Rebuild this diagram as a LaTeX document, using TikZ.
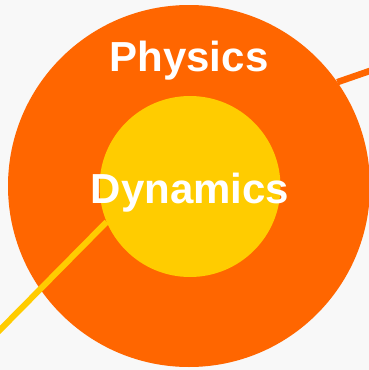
\documentclass[tikz,border=0pt]{standalone}
\usepackage{fontspec}
\setmainfont{Liberation Sans}
\usepackage{tikz}
\usetikzlibrary{positioning}
\definecolor{physorange}{HTML}{FF6600}
\definecolor{dynyellow}{HTML}{FFCC00}
\definecolor{bggray}{HTML}{F8F8F8}

\begin{document}
\begin{tikzpicture}[x=1pt, y=-1pt,
		disc/.style={circle, inner sep=0pt, outer sep=0pt},
		title/.style={text=white, font=\fontsize{42}{42}\selectfont\bfseries, anchor=base, inner sep=0pt}]
		
		% Frame
		\clip (0,0) rectangle (369,370);
		\fill[bggray] (0,0) rectangle (369,370);
		
		% Outer circle
		\node[disc, fill=physorange, minimum size=362pt] (physics) at (189,186) {};
		
		% Inner circle
		\node[disc, fill=dynyellow, minimum size=181pt] (dynamics) at (190,186.5) {};
		
		% Links leaving the circles
		\coordinate (physout) at (380,67.4);
		\coordinate (dynout) at (-10,340);
		\draw[physorange, line width=6.5pt] (physics.35.5) -- (physout);
		\draw[dynyellow, line width=6pt] (dynamics.203) -- (dynout);
		
		% Labels
		\node[title] (physlabel) at (189,71) {Physics};
		\node[title] (dynlabel) at (190,203) {Dynamics};
		
	\end{tikzpicture}
\end{document}
